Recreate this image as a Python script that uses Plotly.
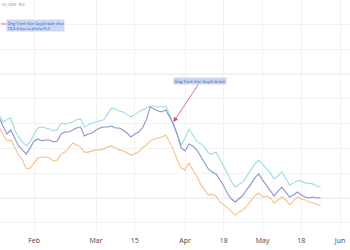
import pandas as pd
import plotly.graph_objects as go

# Trading days (HOSE, 2022), excluding weekends and market holidays
holidays = ["2022-01-31", "2022-02-01", "2022-02-02", "2022-02-03", "2022-02-04",
            "2022-04-11", "2022-05-02", "2022-05-03"]
dates = pd.bdate_range("2022-01-18", "2022-05-25", freq="C", holidays=holidays)

# Relative performance (%)
series_top = [33.5, 30.6, 31.5, 32.3, 27.4, 24.6, 22.6, 21.0, 22.6, 25.8,
              28.2, 28.6, 28.2, 27.8, 27.0, 27.4, 30.2, 29.8, 30.2, 30.6,
              31.5, 31.9, 28.6, 29.4, 30.2, 30.6, 31.0, 31.5, 33.9, 36.3,
              35.9, 35.1, 34.7, 33.5, 32.7, 33.5, 34.7, 35.5, 36.3, 37.1,
              37.1, 36.7, 36.7, 37.1, 33.5, 29.4, 25.8, 21.4, 24.2, 27.8,
              25.4, 23.0, 21.8, 20.6, 18.1, 17.7, 18.5, 15.7, 12.5, 9.7,
              6.5, 4.4, 5.6, 6.5, 8.9, 11.3, 13.7, 15.3, 13.7, 12.1,
              10.1, 7.7, 8.9, 10.5, 7.7, 5.2, 6.0, 6.9, 6.9, 6.0,
              6.0, 5.6, 4.8, 4.4]
series_mid = [32.3, 29.0, 25.8, 27.4, 24.2, 21.0, 19.4, 17.7, 20.2, 23.0,
              23.8, 23.0, 23.4, 23.4, 22.6, 23.0, 25.8, 26.6, 26.6, 27.4,
              28.2, 28.6, 25.0, 25.8, 26.2, 27.4, 28.2, 28.6, 28.6, 29.0,
              28.2, 28.2, 27.4, 26.2, 24.6, 25.8, 26.6, 28.2, 31.5, 36.7,
              35.9, 35.1, 34.7, 35.5, 32.7, 29.8, 25.4, 20.2, 19.0, 21.8,
              21.0, 19.4, 16.9, 14.5, 11.7, 10.5, 9.7, 7.3, 4.8, 1.6,
              -0.4, -1.6, 0.0, 1.2, 3.6, 5.6, 8.1, 9.7, 7.3, 5.2,
              3.2, 0.8, 2.8, 4.4, 2.4, 0.4, 1.2, 2.4, 1.2, 0.4,
              0.0, 0.4, 0.0, 0.0]
series_low = [28.6, 25.8, 23.0, 23.4, 20.2, 17.3, 15.3, 11.7, 12.1, 14.1,
              16.1, 16.5, 16.5, 16.1, 14.9, 15.3, 17.7, 18.5, 20.6, 22.2,
              21.4, 20.6, 18.5, 18.5, 19.0, 19.4, 19.4, 19.8, 20.6, 21.0,
              20.2, 19.4, 19.0, 18.1, 17.3, 17.7, 18.5, 20.2, 21.4, 23.0,
              23.8, 24.2, 24.6, 25.4, 22.6, 19.4, 15.3, 12.1, 11.3, 14.1,
              11.3, 8.9, 5.6, 3.6, 1.2, 1.6, 0.8, -1.6, -2.8, -4.0,
              -5.6, -6.9, -5.6, -4.8, -3.2, -1.2, 0.8, 2.0, 0.4, 0.8,
              0.0, -2.0, -0.8, 0.4, -0.8, -2.8, -1.2, 0.4, -0.4, -0.8,
              -1.6, -2.0, -2.4, -3.2]

tick_dates = ["2022-02-07", "2022-03-01", "2022-03-15", "2022-04-01",
              "2022-04-18", "2022-05-04", "2022-05-18", "2022-06-01"]
tick_labels = ["Feb", "Mar", "15", "Apr", "18", "May", "18", "Jun"]

note_sell = "Ông Trịnh Văn Quyết bán chui<br>74,8 triệu cổ phiếu FLC"
note_arrest = "Ông Trịnh Văn Quyết bị bắt"
arrest_date = "2022-03-29"

colors = ["#97dede", "#8a94cc", "#f5c08b"]

fig = go.Figure()
for vals, col in zip([series_top, series_mid, series_low], colors):
    fig.add_trace(go.Scatter(x=dates, y=vals, mode="lines",
                             line=dict(color=col, width=1.1),
                             showlegend=False, hoverinfo="skip"))

idx = list(dates.strftime("%Y-%m-%d")).index(arrest_date)

for yv in [0, 50]:
    fig.add_shape(type="line", xref="paper", x0=0, x1=1, yref="y", y0=yv, y1=yv,
                  line=dict(color="#e2e2e2", width=1), layer="below")

fig.add_annotation(x=arrest_date, y=series_top[idx] + 1.2, xref="x", yref="y",
                   text=note_arrest, showarrow=True, ax=27, ay=-41,
                   arrowhead=2, arrowsize=1.2, arrowwidth=0.8, arrowcolor="#c8506a",
                   font=dict(size=4, color="#2a4bb5", family="Open Sans"),
                   bgcolor="#cbd8f3", borderpad=0.5)
fig.add_annotation(x=-0.03, y=70.2, xref="paper", yref="y",
                   text=note_sell, showarrow=True, ax=46, ay=1.5, align="left",
                   arrowhead=0, arrowwidth=0.8, arrowcolor="#c8506a",
                   font=dict(size=4, color="#2a4bb5", family="Open Sans"),
                   bgcolor="#cbd8f3", borderpad=0.5)
fig.add_annotation(x=0, y=1, xref="paper", yref="paper", xanchor="left", yanchor="top",
                   text="FLC, HOSE   ROS", showarrow=False,
                   font=dict(size=3, color="#777", family="Open Sans"), yshift=-1)

fig.update_layout(
    width=350, height=250, margin=dict(l=0, r=0, t=0, b=20),
    paper_bgcolor="white", plot_bgcolor="white",
    xaxis=dict(range=["2022-01-18 05:00", "2022-06-03 14:00"],
               rangebreaks=[dict(bounds=["sat", "mon"]), dict(values=holidays)],
               tickvals=tick_dates, ticktext=tick_labels,
               tickfont=dict(size=7, color="#444", family="Open Sans"),
               ticks="outside", ticklen=4, tickcolor="rgba(0,0,0,0)",
               showgrid=True, gridcolor="#f1f1f1", gridwidth=1,
               zeroline=False, showline=False),
    yaxis=dict(range=[-12.9, 79.8], dtick=10, tick0=0, showticklabels=False,
               showgrid=True, gridcolor="#f3f3f3", zeroline=False, showline=False),
)
fig.write_html("out.html")
